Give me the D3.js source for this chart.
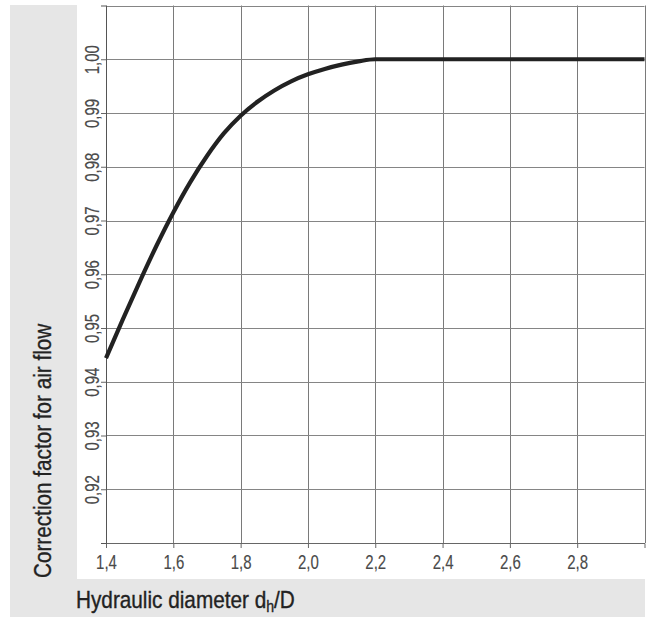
<!DOCTYPE html>
<html><head><meta charset="utf-8">
<script src="https://cdn.jsdelivr.net/npm/d3@7"></script>
<style>
body{margin:0;background:#fff;}
text{font-family:"Liberation Sans",Arial,sans-serif;}
</style></head><body>
<svg id="c" width="649" height="618"></svg>
<script>
const xVals = [1.40,1.45,1.50,1.55,1.60,1.65,1.70,1.75,1.80,1.85,1.90,1.95,2.00,2.05,2.10,2.15,2.20,3.00];
const yVals = [0.9444,0.9516,0.9586,0.9653,0.9715,0.9771,0.9820,0.9862,0.9895,0.9921,0.9942,0.9959,0.9972,0.9982,0.9990,0.9996,1.0000,1.0000];
const xTicks = [1.4,1.6,1.8,2.0,2.2,2.4,2.6,2.8];
const yTicks = [0.92,0.93,0.94,0.95,0.96,0.97,0.98,0.99,1.00];
const xTitle = "Hydraulic diameter d";
const xTitleSub = "h";
const xTitleEnd = "/D";
const yTitle = "Correction factor for air flow";

const NARROW = 0.75;
const svg = d3.select("#c");
const L=106, R=644.5, T=5.5, B=543;
const x = d3.scaleLinear().domain([1.4,3.0]).range([L,R]);
const y = d3.scaleLinear().domain([0.91,1.01]).range([B,T]);

// grey panels
svg.append("rect").attr("x",10).attr("y",5).attr("width",67).attr("height",612).attr("fill","#e6e6e6");
svg.append("rect").attr("x",10).attr("y",579).attr("width",635).attr("height",38).attr("fill","#e6e6e6");

// grid
const g = svg.append("g");
g.selectAll(".vx").data(xTicks.concat([3.0])).join("line")
  .attr("x1",d=>Math.round(x(d))+0.5).attr("x2",d=>Math.round(x(d))+0.5)
  .attr("y1",T).attr("y2",B).attr("stroke","#7a7a7a").attr("stroke-width",1);
g.selectAll(".hy").data(yTicks.concat([1.01])).join("line")
  .attr("x1",L).attr("x2",R).attr("y1",d=>Math.round(y(d))+0.5).attr("y2",d=>Math.round(y(d))+0.5)
  .attr("stroke","#858585").attr("stroke-width",1);

// axes
const xAxis = d3.axisBottom(x).tickValues(xTicks).tickSize(5).tickPadding(7).tickFormat(d=>d.toFixed(1).replace(".",","));
const gx = svg.append("g").attr("transform",`translate(0,${B})`).call(xAxis);
gx.select(".domain").attr("stroke","#666");
gx.selectAll(".tick line").attr("stroke","#666");
gx.selectAll("text").attr("font-size",20).attr("fill","#4a4a4a")
  .attr("stroke","#4a4a4a").attr("stroke-width",0.15)
  .attr("font-family","'Liberation Sans',Arial,sans-serif")
  .attr("transform",`scale(${NARROW},1)`);

const yAxis = d3.axisLeft(y).tickValues(yTicks).tickSize(5).tickFormat(d=>d.toFixed(2).replace(".",","));
const gy = svg.append("g").attr("transform",`translate(${L},0)`).call(yAxis);
gy.select(".domain").attr("stroke","#555");
gy.selectAll(".tick line").attr("stroke","#666");
gy.selectAll("text").attr("font-size",20).attr("fill","#4a4a4a")
  .attr("stroke","#4a4a4a").attr("stroke-width",0.15)
  .attr("font-family","'Liberation Sans',Arial,sans-serif")
  .attr("transform",`rotate(-90) scale(${NARROW},1)`).attr("x",0).attr("y",-7).attr("dy",0).attr("text-anchor","middle");

// curve
const pts = xVals.map((v,i)=>[v,yVals[i]]);
svg.append("path").datum(pts)
  .attr("d", d3.line().x(d=>x(d[0])).y(d=>y(d[1])).curve(d3.curveMonotoneX))
  .attr("fill","none").attr("stroke","#222").attr("stroke-width",4.2).attr("stroke-linecap","butt");

// titles (scaled horizontally to fit the reference's condensed width)
const xt = svg.append("text").attr("font-size",23.5).attr("fill","#222")
  .attr("stroke","#222").attr("stroke-width",0.35);
xt.append("tspan").text(xTitle);
xt.append("tspan").text(xTitleSub).attr("font-size",16).attr("dy",4);
xt.append("tspan").text(xTitleEnd).attr("dy",-4);
const xw = xt.node().getBBox().width;
xt.attr("transform",`translate(76,608) scale(${219/xw},1)`);

const yt = svg.append("text").attr("font-size",24).attr("fill","#222")
  .attr("stroke","#222").attr("stroke-width",0.35).text(yTitle);
const yw = yt.node().getBBox().width;
yt.attr("transform",`translate(51,578) rotate(-90) scale(${255/yw},1)`);
</script></body></html>
